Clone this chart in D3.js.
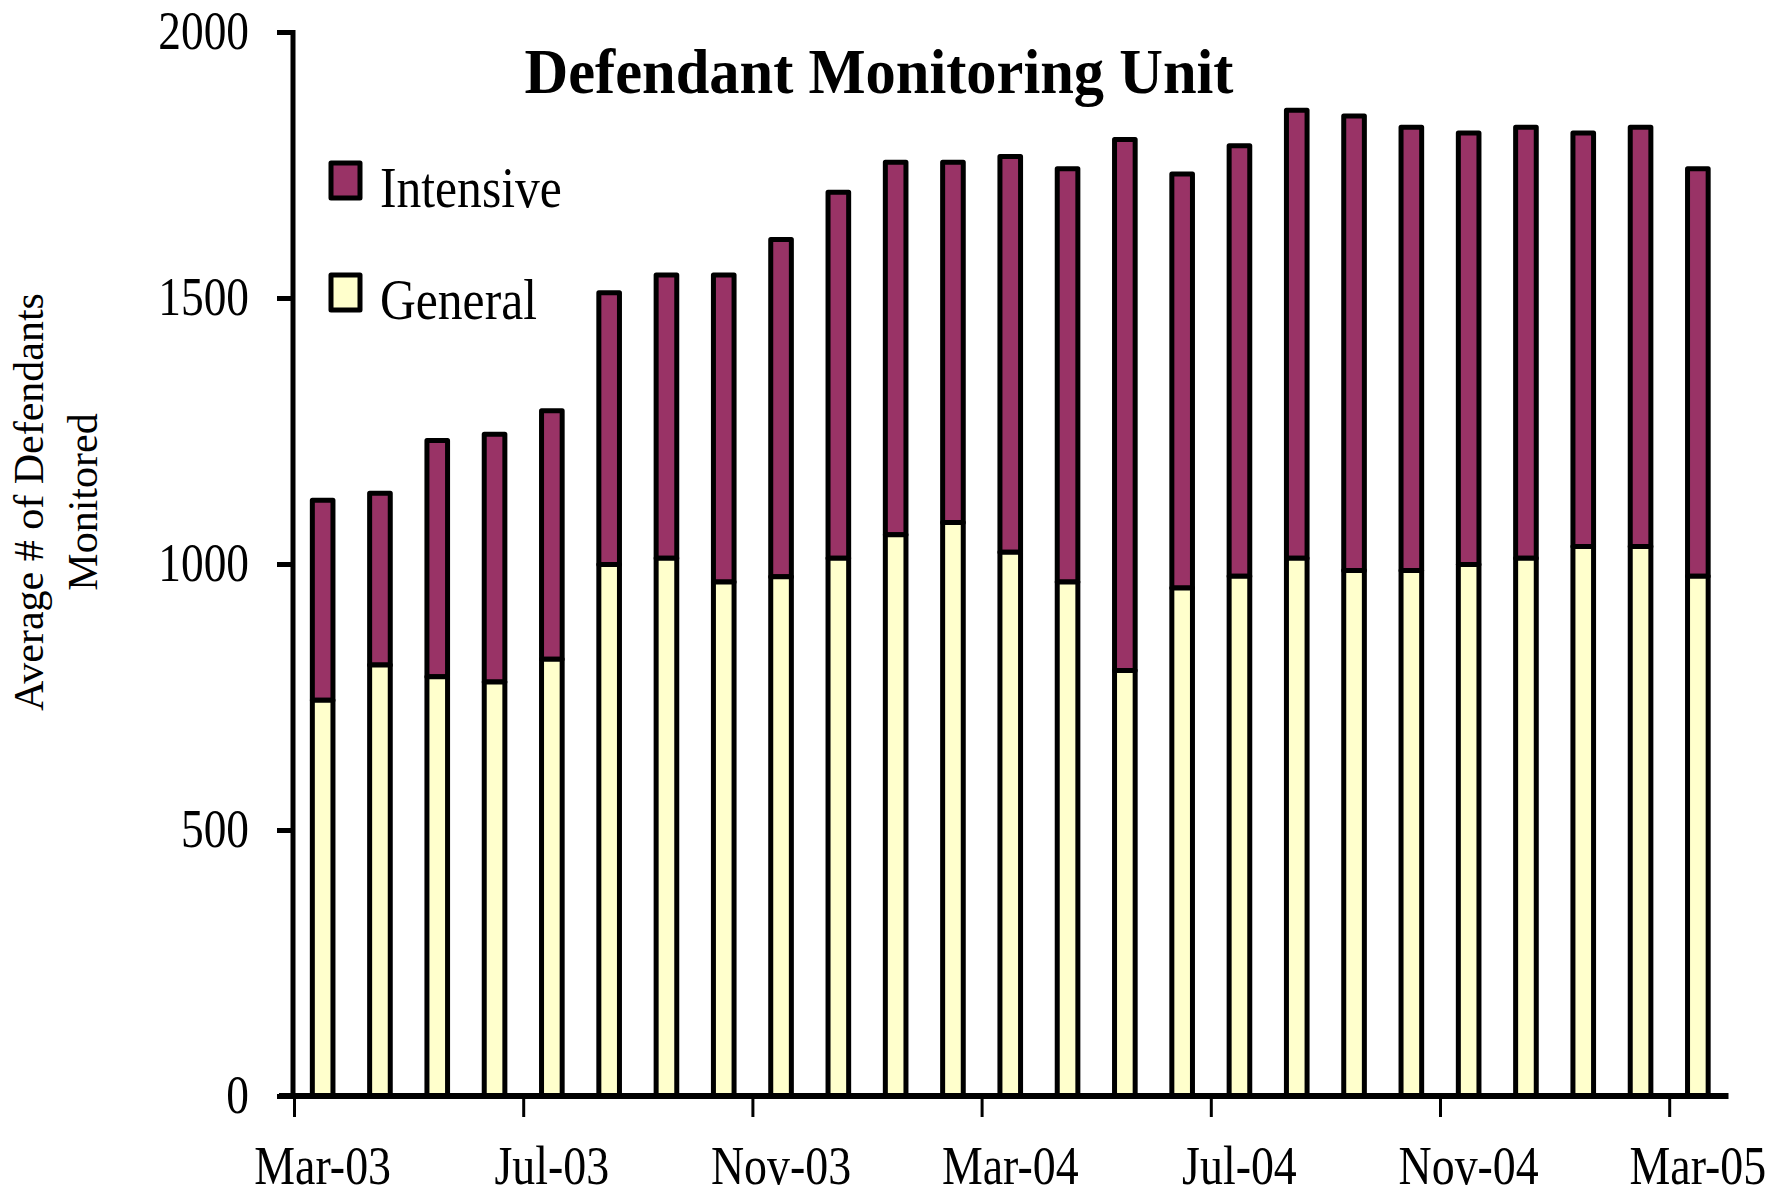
<!DOCTYPE html>
<html>
<head>
<meta charset="utf-8">
<script src="https://cdn.jsdelivr.net/npm/d3@7"></script>
<style>
  body { margin: 0; background: #fff; }
  text { font-family: "Liberation Serif", "DejaVu Serif", serif; fill: #000; }
</style>
</head>
<body>
<svg id="chart" width="1788" height="1198"></svg>
<script>
// monthly averages
let months = ["Mar-03", "Apr-03", "May-03", "Jun-03", "Jul-03", "Aug-03", "Sep-03", "Oct-03",
              "Nov-03", "Dec-03", "Jan-04", "Feb-04", "Mar-04", "Apr-04", "May-04", "Jun-04",
              "Jul-04", "Aug-04", "Sep-04", "Oct-04", "Nov-04", "Dec-04", "Jan-05", "Feb-05", "Mar-05"];
let general   = [744, 810, 788, 778, 821, 999, 1011, 966, 976, 1011, 1055, 1078, 1022,
                 966, 800, 955, 977, 1011, 988, 988, 999, 1011, 1033, 1033, 977];
let intensive = [376, 323, 444, 466, 467, 511, 532, 577, 634, 688, 700, 677, 744,
                 777, 998, 778, 809, 842, 854, 833, 811, 810, 777, 788, 766];
let yTicks = [0, 500, 1000, 1500, 2000];
let xTickLabels = ["Mar-03", "Jul-03", "Nov-03", "Mar-04", "Jul-04", "Nov-04", "Mar-05"];
let seriesNames = ["Intensive", "General"];
let seriesColors = {"General": "#ffffcc", "Intensive": "#993366"};

let svg = d3.select("#chart");

let pLeft = 294, pRight = 1726.5, pTop = 32, pBottom = 1096;

let x = d3.scaleBand().domain(months).range([pLeft, pRight])
    .paddingInner(0.64).paddingOuter(0.32);
// month index scale, used for the ticks between the bars
let xi = d3.scaleLinear().domain([0, months.length]).range([pLeft, pRight]);
let y = d3.scaleLinear().domain([0, 2000]).range([pBottom, pTop]);

// the fonts in the original are a narrow serif, squeeze ours to match
function condense(sel, k) {
    sel.each(function() {
        let w = this.getComputedTextLength();
        d3.select(this).attr("textLength", w * k).attr("lengthAdjust", "spacingAndGlyphs");
    });
}

// stacked bars
let rows = months.map(function(m, i) {
    return {month: m, General: general[i], Intensive: intensive[i]};
});
let stacked = d3.stack().keys(["General", "Intensive"])(rows);

svg.append("g").selectAll("g")
    .data(stacked.slice().reverse())
    .enter().append("g")
    .attr("fill", function(d) { return seriesColors[d.key]; })
    .selectAll("rect")
    .data(function(d) { return d; })
    .enter().append("rect")
    .attr("x", function(d) { return x(d.data.month); })
    .attr("y", function(d) { return y(d[1]); })
    .attr("width", x.bandwidth())
    .attr("height", function(d) { return y(d[0]) - y(d[1]); })
    .attr("stroke", "#000")
    .attr("stroke-width", 5)
    .attr("stroke-linejoin", "round");

// y axis
let yAxis = svg.append("g")
    .attr("transform", "translate(" + 293 + ",0)")
    .call(d3.axisLeft(y).tickValues(yTicks).tickFormat(d3.format("d")).tickSize(16).tickPadding(28));
yAxis.select(".domain").remove();
yAxis.selectAll(".tick line").attr("stroke", "#000").attr("stroke-width", 5);
yAxis.selectAll(".tick text")
    .attr("font-size", "54px")
    .attr("font-family", "Liberation Serif")
    .attr("dy", "0.3em")
    .call(condense, 0.84);
yAxis.append("line")
    .attr("x1", 0).attr("x2", 0)
    .attr("y1", y(2000) - 2).attr("y2", y(0))
    .attr("stroke", "#000").attr("stroke-width", 5);

// x axis: ticks on the month boundaries, labels under the months
let xTicks = svg.append("g")
    .attr("transform", "translate(0," + pBottom + ")")
    .call(d3.axisBottom(xi).tickValues(d3.range(0, months.length, 4)).tickSize(21).tickFormat(""));
xTicks.select(".domain").remove();
xTicks.selectAll(".tick line").attr("stroke", "#000").attr("stroke-width", 3);

let xLabels = svg.append("g")
    .attr("transform", "translate(0," + pBottom + ")")
    .call(d3.axisBottom(x).tickValues(xTickLabels).tickSize(0));
xLabels.select(".domain").remove();
xLabels.selectAll(".tick text")
    .attr("font-size", "54px")
    .attr("font-family", "Liberation Serif")
    .attr("y", 88)
    .attr("dy", 0)
    .call(condense, 0.85);

svg.append("line")
    .attr("x1", pLeft - 15).attr("x2", pRight + 2)
    .attr("y1", pBottom).attr("y2", pBottom)
    .attr("stroke", "#000").attr("stroke-width", 6);

// y axis title
svg.append("text")
    .attr("transform", "translate(43,502) rotate(-90)")
    .attr("text-anchor", "middle")
    .attr("font-size", "42px")
    .text("Average # of Defendants");
svg.append("text")
    .attr("transform", "translate(97,502) rotate(-90)")
    .attr("text-anchor", "middle")
    .attr("font-size", "42px")
    .text("Monitored");

// title
svg.append("text")
    .attr("x", 879)
    .attr("y", 93)
    .attr("text-anchor", "middle")
    .attr("font-size", "64px")
    .attr("font-weight", "bold")
    .attr("textLength", 709)
    .attr("lengthAdjust", "spacingAndGlyphs")
    .text("Defendant Monitoring Unit");

// legend
let legend = svg.append("g").selectAll("g")
    .data(seriesNames)
    .enter().append("g")
    .attr("transform", function(d, i) { return "translate(331," + (163 + i * 112) + ")"; });

legend.append("rect")
    .attr("width", 29)
    .attr("height", 35)
    .attr("fill", function(d) { return seriesColors[d]; })
    .attr("stroke", "#000")
    .attr("stroke-width", 5)
    .attr("stroke-linejoin", "round");

legend.append("text")
    .attr("x", 49)
    .attr("y", 44)
    .attr("font-size", "58px")
    .text(function(d) { return d; })
    .call(condense, 0.855);
</script>
</body>
</html>
